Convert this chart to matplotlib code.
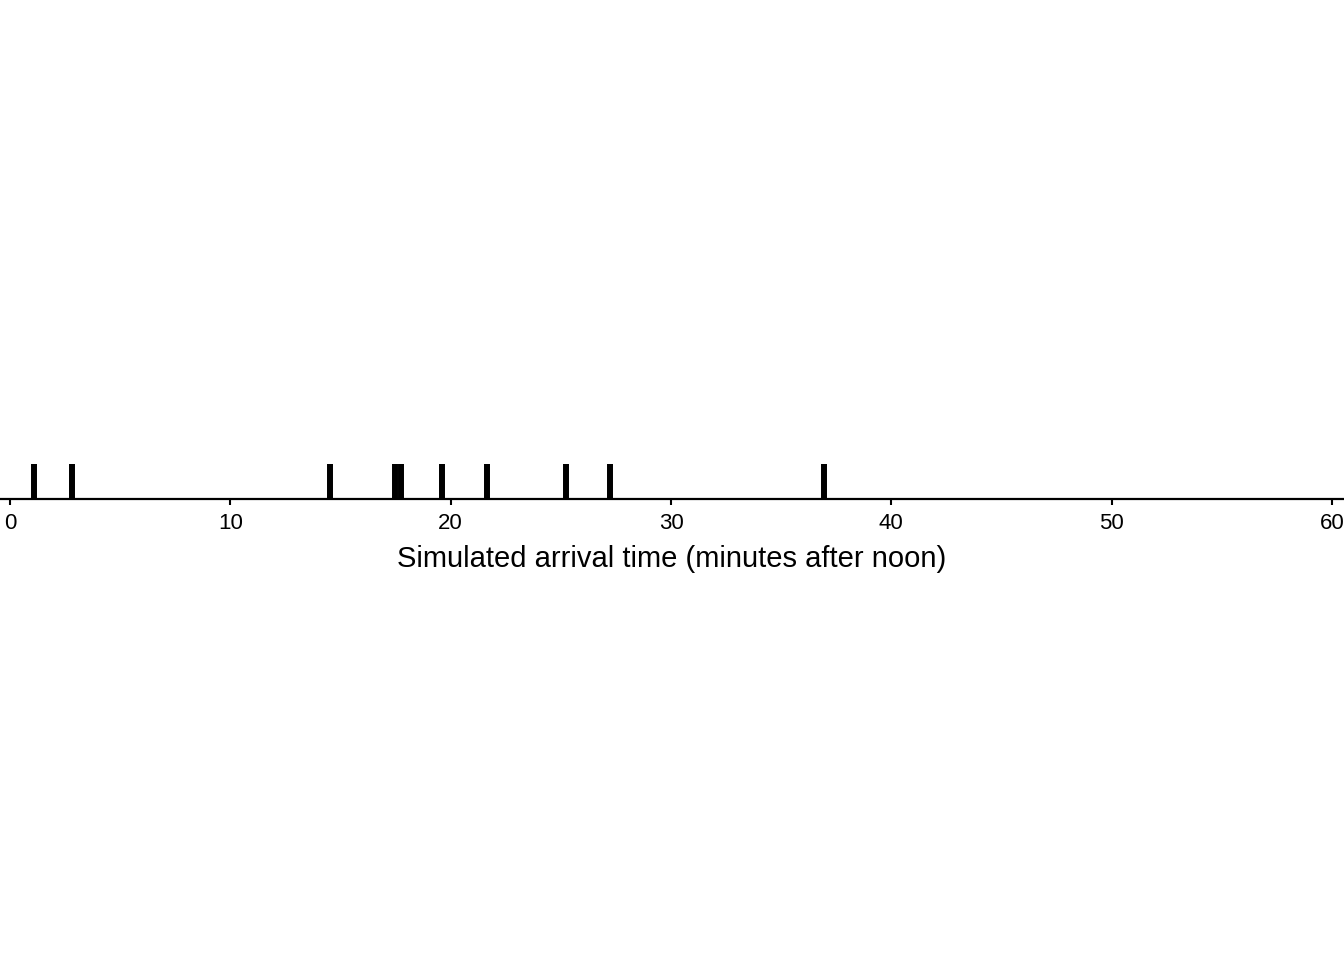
import matplotlib
matplotlib.use("Agg")
import matplotlib.pyplot as plt

arrival_minutes = [1.09, 2.81, 14.53, 17.48, 17.75, 19.61, 21.65, 25.24, 27.24, 36.95]
tick_values = [0, 10, 20, 30, 40, 50, 60]
xlabel = "Simulated arrival time (minutes after noon)"

plt.rcParams['font.family'] = ['Liberation Sans', 'DejaVu Sans']

fig = plt.figure(figsize=(13.44, 9.6), dpi=100)
ax = fig.add_axes([0, (960 - 499) / 960, 1, 35 / 960])
ax.vlines(arrival_minutes, 0, 1, colors='black', linewidth=4.3)
ax.set_xlim(-10 / 22.03, 60 + 12 / 22.03)
ax.set_ylim(0, 1)
ax.set_xticks(tick_values)
ax.set_xticklabels([str(t) for t in tick_values], fontsize=16)
ax.tick_params(axis='x', length=4.5, width=1.5, pad=5.5, color='black')
ax.set_yticks([])
for s in ['top', 'left', 'right']:
    ax.spines[s].set_visible(False)
ax.spines['bottom'].set_linewidth(1.6)
ax.set_xlabel(xlabel, fontsize=21, labelpad=8)
fig.savefig("out.png", dpi=100)
